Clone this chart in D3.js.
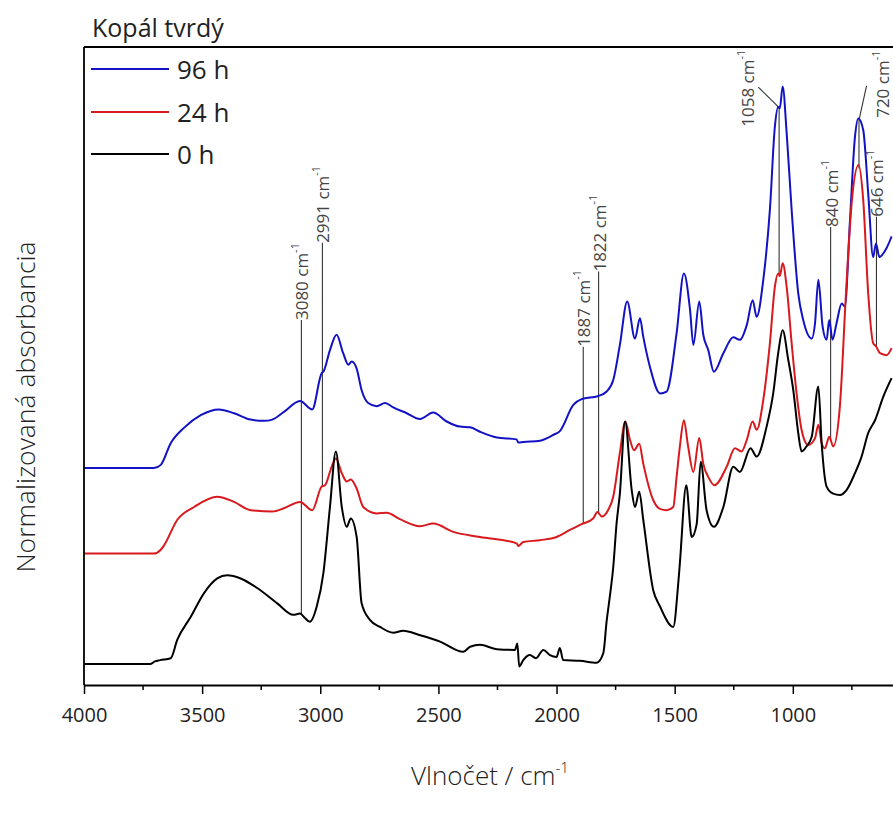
<!DOCTYPE html>
<html>
<head>
<meta charset="utf-8">
<script src="https://cdn.jsdelivr.net/npm/d3@7"></script>
<style>
  body { margin: 0; background: #fff; }
  svg { display: block; }
  text { font-family: "Open Sans", "DejaVu Sans", sans-serif; }
</style>
</head>
<body>
<svg id="chart" width="893" height="814"></svg>
<script>
// FTIR spectra of hard copal after 0, 24 and 96 h (offset, normalized absorbance)
const wn0 = [4000,3848,3718,3700,3678,3633,3605,3548,3492,3436,3394,3337,3267,3182,3114,3086,3065,3044,3015,2987,2959,2934,2909,2888,2871,2846,2825,2790,2747,2691,2649,2578,2493,2395,2366,2324,2253,2176,2166,2158,2141,2113,2087,2056,2028,2000,1986,1972,1901,1830,1802,1788,1774,1760,1746,1732,1710,1682,1668,1650,1633,1591,1562,1506,1485,1478,1451,1428,1407,1390,1365,1334,1294,1252,1224,1179,1153,1111,1083,1062,1043,1019,998,977,963,942,920,892,878,857,829,801,772,737,709,681,652,617,582];
const abs0 = [3.3,3.3,3.3,3.7,3.9,4.2,7.1,10.7,14.4,16.7,17.2,16.7,15.2,12.8,11.0,11.2,10.5,9.9,12.3,17.5,27.9,36.6,27.9,24.8,26.1,23.2,12.8,10.2,9.1,8.2,8.5,7.8,6.8,5.2,6.0,6.3,5.6,5.5,6.5,2.9,3.9,4.7,4.2,5.5,4.7,4.4,5.8,3.9,3.8,3.5,5.0,10.0,14.0,18.5,25.3,30.0,41.3,30.6,27.9,30.3,25.9,14.9,12.3,9.1,15.9,19.1,31.3,23.2,25.2,35.0,27.4,24.8,27.9,34.2,33.4,37.1,35.8,40.5,45.7,52.0,55.6,50.9,46.2,39.5,36.6,37.4,38.9,46.8,37.9,31.1,30.0,29.8,30.6,33.2,35.8,39.5,41.5,45.2,48.1];

const wn24 = [4000,3848,3704,3675,3661,3605,3534,3436,3365,3295,3203,3154,3086,3034,2994,2980,2952,2934,2909,2888,2871,2846,2818,2761,2719,2663,2578,2522,2437,2324,2169,2162,2141,2070,2000,1943,1894,1845,1827,1809,1782,1760,1732,1709,1689,1672,1650,1633,1591,1562,1534,1506,1492,1478,1461,1444,1421,1396,1379,1355,1332,1280,1245,1217,1195,1170,1153,1125,1097,1076,1062,1055,1043,1026,1005,984,963,935,906,892,878,864,846,829,801,775,751,722,702,681,660,648,631,603,582];
const abs24 = [20.6,20.6,20.6,21.2,21.9,25.9,27.9,29.5,28.7,27.4,27.2,27.7,28.7,27.4,31.1,31.3,34.2,35.5,33.2,31.9,32.2,30.8,27.9,26.9,27.0,26.0,24.9,25.3,24.0,23.2,22.2,21.8,22.4,22.7,23.2,24.3,25.2,26.1,27.1,26.4,27.4,29.5,36.4,41.3,38.4,36.8,37.8,34.7,29.0,27.6,27.4,27.9,32.6,37.4,41.5,37.6,33.4,38.7,34.7,32.4,31.3,34.2,37.1,36.6,38.4,41.3,40.0,44.7,53.6,62.4,64.5,64.1,66.1,62.4,53.6,45.7,40.0,37.6,38.7,40.8,37.9,37.1,38.9,37.4,43.6,61.4,75.5,81.5,76.0,61.4,53.6,53.1,52.0,51.7,52.8];

const wn96 = [4000,3848,3704,3675,3633,3577,3506,3429,3365,3295,3238,3203,3154,3086,3034,2994,2987,2959,2931,2903,2881,2867,2846,2825,2797,2761,2726,2691,2634,2578,2522,2465,2409,2366,2324,2253,2169,2162,2141,2070,2014,1986,1929,1894,1823,1788,1760,1732,1701,1668,1647,1633,1605,1562,1534,1492,1461,1435,1421,1396,1379,1358,1334,1294,1252,1224,1195,1170,1153,1125,1097,1076,1062,1055,1043,1026,1005,977,956,920,906,892,874,857,846,832,815,793,780,758,737,723,702,681,660,648,634,603,582];
const abs96 = [34.0,34.0,34.0,34.5,37.9,40.3,42.3,43.2,42.6,41.6,41.4,41.6,42.8,44.5,43.2,48.9,49.1,52.5,54.9,52.0,50.2,50.7,49.6,46.2,44.2,43.7,44.2,43.5,42.6,41.7,42.7,41.3,40.5,40.4,39.7,38.8,38.5,38.0,38.1,38.3,39.2,39.8,43.9,44.8,45.3,46.0,47.8,53.3,60.1,54.3,57.5,54.6,49.9,45.7,46.0,55.1,64.5,58.8,53.3,60.1,54.9,52.5,49.1,52.0,54.5,54.1,56.4,60.3,57.7,63.5,74.5,87.5,90.6,90.4,93.8,86.5,74.5,61.4,57.2,54.3,56.7,63.5,56.2,54.1,57.2,54.1,56.7,59.8,59.3,72.9,85.9,88.8,87.0,77.1,67.1,69.2,67.1,68.5,70.3];

const seriesNames = ["96 h", "24 h", "0 h"];
const xTickValues = [4000, 3500, 3000, 2500, 2000, 1500, 1000];
const xMinorTickValues = [3750, 3250, 2750, 2250, 1750, 1250, 750];
const peakWavenumbers = [3080, 2991, 1887, 1822, 1058, 840, 720, 646];

// styles and layout
const colors = { "96 h": "#1212c4", "24 h": "#d8191e", "0 h": "#000000" };
const series = [
  { name: "96 h", wn: wn96, a: abs96 },
  { name: "24 h", wn: wn24, a: abs24 },
  { name: "0 h",  wn: wn0,  a: abs0 }
];
// where each peak label sits (label start in data units) and which curves its marker line joins
const peakLayout = {
  3080: { bottom: "0 h",  labelWn: 3080, labelV: 57.2 },
  2991: { bottom: "24 h", labelWn: 2991, labelV: 69.3 },
  1887: { bottom: "24 h", labelWn: 1887, labelV: 53.0 },
  1822: { bottom: "24 h", labelWn: 1822, labelV: 64.8 },
  1058: { bottom: "24 h", top: "96 h", leader: [1146, 93.7], labelWn: 1192, labelV: 87.5 },
  840:  { bottom: "24 h", labelWn: 840, labelV: 71.8 },
  720:  { bottom: "24 h", top: "96 h", leader: [688, 93.9], labelWn: 622, labelV: 88.9 },
  646:  { bottom: "24 h", labelWn: 646, labelV: 73.4 }
};

const plot = { left: 84, right: 893, top: 47, bottom: 685 };

const svg = d3.select("#chart");

const x = d3.scaleLinear().domain([4000, 576]).range([plot.left, plot.right]);
const y = d3.scaleLinear().domain([0, 100]).range([plot.bottom, plot.top]);

function valueAt(s, w) {
  for (let i = 0; i < s.wn.length - 1; i++) {
    if (s.wn[i] >= w && s.wn[i + 1] <= w) {
      const t = (s.wn[i] - w) / (s.wn[i] - s.wn[i + 1]);
      return s.a[i] + t * (s.a[i + 1] - s.a[i]);
    }
  }
  return s.a[s.a.length - 1];
}
const byName = Object.fromEntries(series.map(s => [s.name, s]));

svg.append("defs").append("clipPath").attr("id", "plotClip")
  .append("rect").attr("x", plot.left).attr("y", plot.top)
  .attr("width", plot.right - plot.left).attr("height", plot.bottom - plot.top);

// peak marker lines and labels
const ann = svg.append("g").attr("class", "peaks");
peakWavenumbers.forEach(p => {
  const L = peakLayout[p];
  const px = x(p);
  const yBottom = y(valueAt(byName[L.bottom], p));
  const yTop = L.top ? y(valueAt(byName[L.top], p)) : y(L.labelV);
  ann.append("line")
    .attr("x1", px).attr("x2", px).attr("y1", yTop).attr("y2", yBottom)
    .attr("stroke", "#333").attr("stroke-width", 1.1);
  if (L.leader) {
    ann.append("line")
      .attr("x1", px).attr("y1", yTop)
      .attr("x2", x(L.leader[0])).attr("y2", y(L.leader[1]))
      .attr("stroke", "#333").attr("stroke-width", 1.1);
  }
  const t = ann.append("text")
    .attr("transform", `translate(${x(L.labelWn)},${y(L.labelV)}) rotate(-90)`)
    .attr("dominant-baseline", "central")
    .attr("font-size", 17).attr("fill", "#444");
  t.append("tspan").text(`${p} cm`);
  t.append("tspan").attr("font-size", 11).attr("dy", -7).text("-1");
});

// spectra
const line = d3.line()
  .x(d => x(d[0]))
  .y(d => y(d[1]))
  .curve(d3.curveMonotoneX);

const curves = svg.append("g").attr("clip-path", "url(#plotClip)");
series.forEach(s => {
  const pts = s.wn.map((w, i) => [w, s.a[i]]);
  curves.append("path")
    .datum(pts)
    .attr("d", line)
    .attr("fill", "none")
    .attr("stroke", colors[s.name])
    .attr("stroke-width", 2)
    .attr("stroke-linejoin", "round");
});

// frame: left axis and top border
svg.append("line").attr("x1", plot.left).attr("x2", plot.left)
  .attr("y1", plot.top).attr("y2", plot.bottom)
  .attr("stroke", "#000").attr("stroke-width", 1.8);
svg.append("line").attr("x1", plot.left).attr("x2", plot.right)
  .attr("y1", plot.top).attr("y2", plot.top)
  .attr("stroke", "#000").attr("stroke-width", 1.8);

// x axis
const xAxis = svg.append("g").attr("transform", `translate(0,${plot.bottom})`)
  .call(d3.axisBottom(x).tickValues(xTickValues).tickSize(9).tickSizeOuter(0)
    .tickPadding(14).tickFormat(d3.format("d")));
xAxis.select(".domain").attr("stroke-width", 1.8);
xAxis.selectAll(".tick line").attr("stroke-width", 1.5);
xAxis.selectAll(".tick text")
  .attr("font-size", 20).attr("fill", "#222")
  .attr("font-family", "\"Open Sans\", sans-serif");

const minor = svg.append("g").attr("transform", `translate(0,${plot.bottom})`);
minor.selectAll("line").data(xMinorTickValues).join("line")
  .attr("x1", d => x(d)).attr("x2", d => x(d))
  .attr("y1", 0).attr("y2", 5)
  .attr("stroke", "#000").attr("stroke-width", 1.5);

// axis titles
const xt = svg.append("text")
  .attr("x", 490).attr("y", 785)
  .attr("text-anchor", "middle").attr("font-size", 26)
  .attr("font-weight", 300).attr("fill", "#222");
xt.append("tspan").text("Vlnočet / cm");
xt.append("tspan").attr("font-size", 15).attr("dy", -12).text("-1");

svg.append("text")
  .attr("transform", "translate(35,407) rotate(-90)")
  .attr("text-anchor", "middle").attr("font-size", 26.5)
  .attr("font-weight", 300).attr("fill", "#222")
  .text("Normalizovaná absorbancia");

// legend
svg.append("text").attr("x", 92).attr("y", 37)
  .attr("font-size", 25).attr("fill", "#222")
  .text("Kopál tvrdý");

const legend = svg.append("g");
const legendY = [69, 112, 154];
seriesNames.forEach((n, i) => {
  legend.append("line")
    .attr("x1", 91).attr("x2", 169)
    .attr("y1", legendY[i]).attr("y2", legendY[i])
    .attr("stroke", colors[n]).attr("stroke-width", 2);
  legend.append("text")
    .attr("x", 177).attr("y", legendY[i] + 10)
    .attr("font-size", 26).attr("fill", "#222")
    .text(n);
});
</script>
</body>
</html>
